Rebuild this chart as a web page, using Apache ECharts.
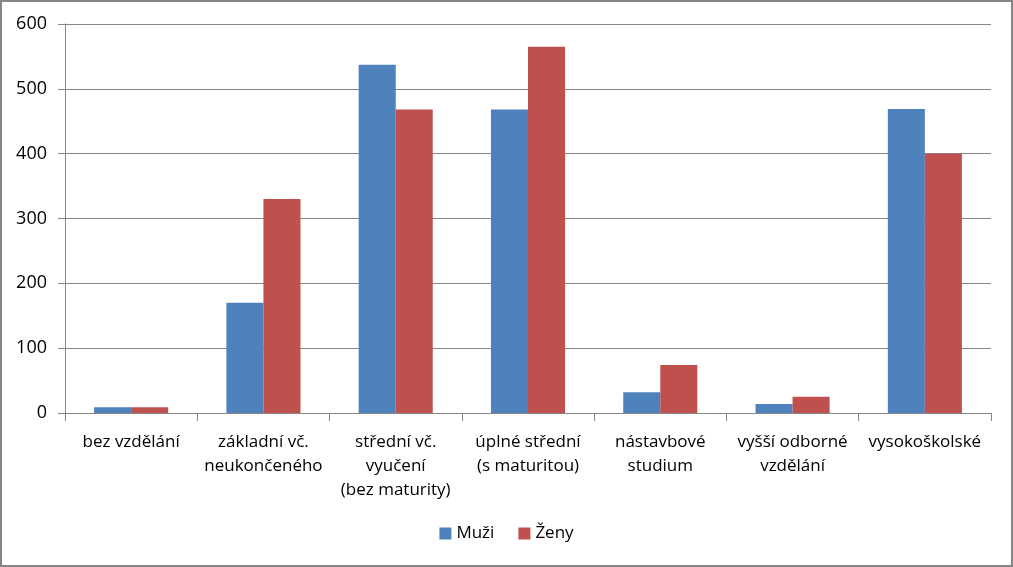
<!DOCTYPE html>
<html>
<head>
<meta charset="utf-8">
<script src="https://cdn.jsdelivr.net/npm/echarts@6/dist/echarts.min.js"></script>
<style>
  html, body { margin: 0; padding: 0; background: #fff; }
  #chart {
    width: 1013px;
    height: 567px;
    box-sizing: border-box;
    border: 2px solid #868686;
  }
</style>
</head>
<body>
<div id="chart"></div>
<script>
// kategorie vzdělání
const categories = [
  'bez vzdělání',
  'základní vč.\nneukončeného',
  'střední vč.\nvyučení\n(bez maturity)',
  'úplné střední\n(s maturitou)',
  'nástavbové\nstudium',
  'vyšší odborné\nvzdělání',
  'vysokoškolské'
];
const muzi = [9, 170, 537, 468, 32, 14, 469];
const zeny = [9, 330, 468, 565, 74, 25, 400];

const chart = echarts.init(document.getElementById('chart'));
const font = 'Open Sans, Noto Sans, sans-serif';
chart.setOption({
  animation: false,
  color: ['#4f81bd', '#c0504d'],
  grid: { left: 63, right: 20, top: 22, bottom: 152 },
  legend: {
    bottom: 18,
    left: 'center',
    itemWidth: 12,
    itemHeight: 12,
    itemGap: 24,
    icon: 'rect',
    textStyle: { fontFamily: font, fontSize: 17, color: '#000' },
    data: ['Muži', 'Ženy']
  },
  xAxis: {
    type: 'category',
    data: categories,
    axisLine: { lineStyle: { color: '#868686', width: 1 } },
    axisTick: { show: true, length: 8, alignWithLabel: false, lineStyle: { color: '#868686' } },
    axisLabel: {
      interval: 0,
      margin: 17,
      fontFamily: font,
      fontSize: 17,
      color: '#000',
      lineHeight: 24
    }
  },
  yAxis: {
    type: 'value',
    min: 0,
    max: 600,
    interval: 100,
    axisLine: { show: true, lineStyle: { color: '#868686' } },
    axisTick: { show: true, length: 7, lineStyle: { color: '#868686' } },
    splitLine: { lineStyle: { color: '#868686', width: 1 } },
    axisLabel: { margin: 18, fontFamily: font, fontSize: 18, color: '#000' }
  },
  series: [
    { name: 'Muži', type: 'bar', data: muzi, barGap: '0%', barCategoryGap: '44%' },
    { name: 'Ženy', type: 'bar', data: zeny, barGap: '0%', barCategoryGap: '44%' }
  ]
});
</script>
</body>
</html>
